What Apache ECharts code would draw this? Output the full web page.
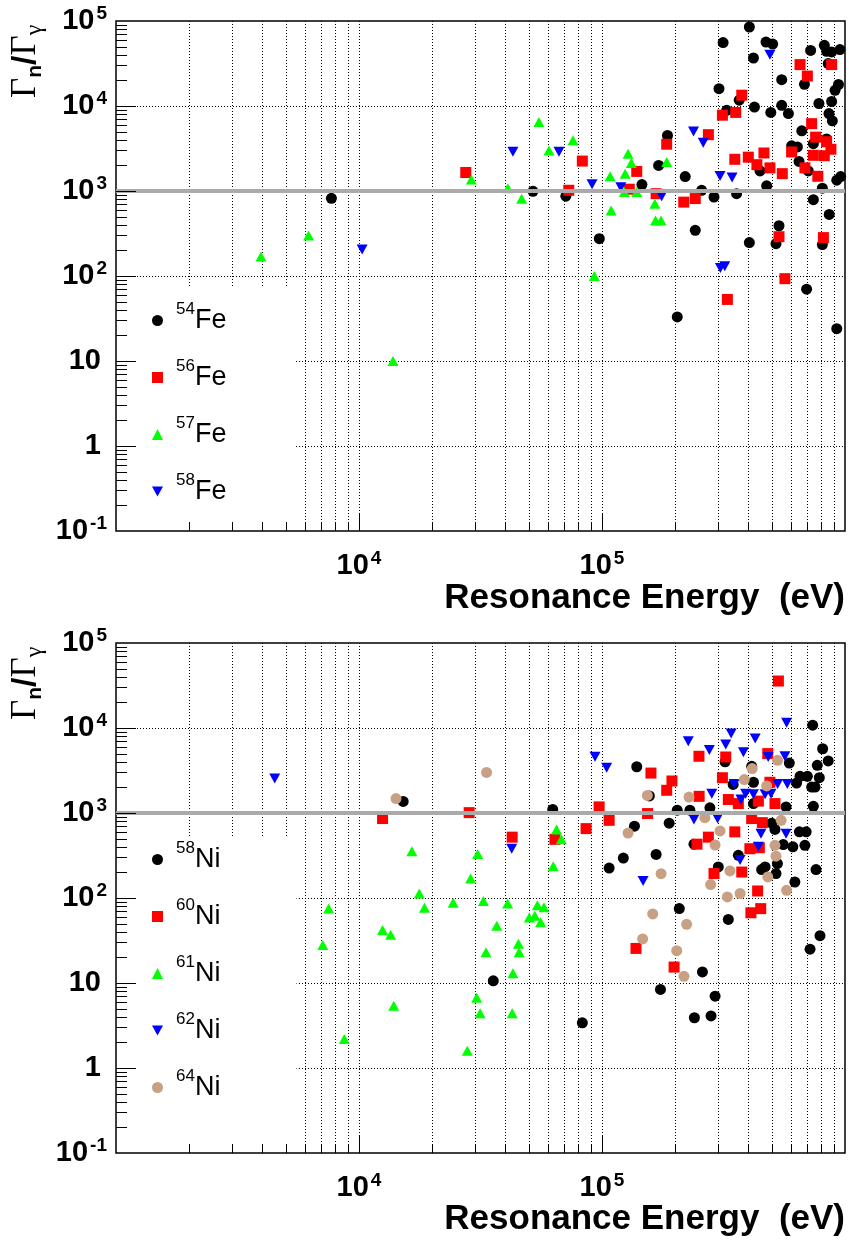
<!DOCTYPE html>
<html><head><meta charset="utf-8">
<script src="https://cdn.jsdelivr.net/npm/echarts@6/dist/echarts.min.js"></script>
<style>html,body{margin:0;padding:0;background:#fff}#c{width:849px;height:1243px}</style>
</head><body><div id="c"></div>
<script>
// ---------- data: [resonance energy (eV), Gamma_n / Gamma_gamma] ----------
const fe54 = [[7700,820],[52000,990],[71000,870],[97500,275],[146000,1190],[171000,2000],[186000,4500],[220000,1480],[257000,1020],[242000,345],[204000,33],[404000,85000],[315000,55700],[473000,56500],[504000,53500],[420000,36700],[722000,45000],[822000,51800],[840000,44000],[881000,43200],[953000,46100],[853000,31600],[681000,18000],[549000,20400],[303000,16000],[367000,11700],[910000,15300],[940000,17900],[781000,10700],[881000,11300],[424000,9700],[549000,10200],[585000,8150],[495000,8400],[326000,8900],[859000,8150],[887000,6700],[664000,5100],[741000,3600],[840000,4100],[603000,3400],[637000,3300],[647000,2230],[706000,1720],[925000,1340],[960000,1480],[807000,1080],[741000,790],[861000,530],[447000,1720],[476000,1150],[289000,850],[358000,930],[535000,390],[520000,240],[404000,247],[807000,234],[695000,70],[925000,24]];
const fe56 = [[27500,1650],[73000,1020],[83000,2250],[129500,1050],[139000,1700],[167000,930],[184600,3550],[217000,740],[242000,815],[274000,4600],[653000,30700],[700000,22500],[881000,30700],[376000,13400],[313000,7800],[355000,8400],[729000,6200],[757000,4300],[840000,3800],[875000,3100],[741000,2630],[822000,2600],[603000,2880],[684000,1870],[773000,1490],[352000,2360],[400000,2500],[434000,2040],[464000,2800],[491000,1870],[552000,1600],[535000,290],[815000,283],[566000,93],[328000,53]];
const fe57 = [[3950,170],[6200,300],[13800,10],[29000,1370],[41000,1080],[46700,810],[55000,6500],[60500,3000],[76000,3950],[93000,100],[109000,590],[108000,1490],[128000,2750],[132000,2130],[124500,1600],[123600,970],[139000,970],[184600,2200],[165000,710],[166000,450],[175000,450]];
const fe58 = [[10300,205],[43000,2900],[66500,2900],[91000,1200],[119500,1110],[176000,870],[238000,5000],[261000,3700],[491000,40000],[306000,1500],[343000,1440],[307000,124],[320000,130]];

const ni58 = [[15200,1370],[62700,1100],[35700,10.6],[83000,3.4],[139000,3500],[156700,1590],[136000,700],[189000,760],[204000,1080],[230000,1080],[239000,430],[122400,295],[107000,225],[167000,326],[208000,75],[259000,13.5],[174000,8.4],[240000,3.9],[278000,1150],[736000,10800],[809000,5700],[853000,4100],[769000,3640],[321000,4000],[590000,3870],[413000,3540],[420000,2300],[346500,2170],[632000,2250],[653000,2700],[700000,2700],[784000,2600],[729000,2020],[753000,2020],[420000,1290],[572000,1180],[741000,1200],[499000,760],[515000,640],[649000,600],[692000,600],[557000,425],[610000,400],[684000,417],[364000,318],[527000,254],[520000,194],[454000,216],[469000,232],[622000,154],[760000,216],[301000,232],[331000,56],[789000,36],[718000,25],[292000,7],[281000,4.1]];
const ni60 = [[12500,860],[28400,1010],[42700,520],[64000,490],[159000,2950],[194000,2380],[184600,1850],[250600,4650],[251000,1570],[97300,1180],[107000,820],[86000,655],[154000,985],[246000,430],[138000,25.5],[198000,15.4],[532000,35700],[323000,4560],[481000,5000],[313000,2600],[491000,2300],[331000,1440],[364000,1290],[440000,1380],[515000,1290],[413000,860],[457000,770],[352000,600],[274000,520],[406000,380],[444000,390],[289000,194],[376000,202],[437000,121],[410000,67],[450000,75]];
const ni61 = [[7500,75],[7100,28],[8700,2.2],[12500,42],[13500,37],[13900,5.4],[16500,355],[17700,113],[18600,77],[24400,88],[27900,1.6],[28800,170],[30500,6.7],[30800,330],[31500,4.4],[32500,92],[33300,23],[36900,47],[40900,86],[42700,4.4],[43000,13],[45300,29],[45600,23],[50200,59],[52900,62],[54200,82],[55900,52],[57700,78],[63000,236],[65000,640],[68000,490]];
const ni62 = [[4500,2550],[42500,380],[93600,4600],[104500,3400],[147600,158],[226500,7000],[276500,5500],[239000,840],[575000,11500],[340000,8600],[427000,7500],[323000,6400],[382000,5200],[483000,4560],[566000,4650],[350000,2200],[283000,1690],[528000,2200],[579000,2200],[390000,1690],[420000,1660],[373000,1440],[469000,1660],[496000,1690],[299000,860],[451000,570],[572000,570],[440000,400],[370000,280]];
const ni64 = [[14200,1480],[33500,3000],[153700,1610],[228000,1540],[128000,580],[265000,880],[175000,193],[161700,65],[223000,49],[147000,33],[203000,24],[217500,12],[528000,4170],[415000,3330],[385000,2470],[476000,2080],[546000,820],[306000,615],[292000,420],[515000,417],[520000,310],[481000,177],[575000,123],[336000,208],[280000,144],[328000,103],[370000,113]];

// ---------- axes / labels ----------
const X_MIN = 1e3, X_MAX = 1e6, Y_MIN = 0.1, Y_MAX = 1e5;
const REF_LEVEL = 1000;
const xTickExps = [4, 5];
const xTickLabels = ['{b|10}{s|4}', '{b|10}{s|5}'];
const yTickExps = [-1, 0, 1, 2, 3, 4, 5];
const yTickLabels = ['{b|10}{s|-1}', '{p|1}', '{p|10}', '{b|10}{s|2}', '{b|10}{s|3}', '{b|10}{s|4}', '{b|10}{s|5}'];
const xTitle = 'Resonance Energy  (eV)';
const yTitle = '{G|Γ}{n|n}{sl|/}{G|Γ}{g|γ}';
const feNames = ['54Fe', '56Fe', '57Fe', '58Fe'];
const niNames = ['58Ni', '60Ni', '61Ni', '62Ni', '64Ni'];

// tick positions (decade x multiplier)
const xTicks = [], yTicks = [];
for (let e = 3; e <= 5; e++) for (let m = 1; m <= 9; m++) { if (e === 3 && m === 1) continue; xTicks.push([m * Math.pow(10, e), 1, m === 1 ? 1 : 0]); }
for (let e = -1; e <= 4; e++) for (let m = 1; m <= 9; m++) { if (e === -1 && m === 1) continue; yTicks.push([X_MIN, m * Math.pow(10, e), m === 1 ? 1 : 0]); }
const yGrid = yTicks.filter(t => t[2] === 1);

const FONT = '"Liberation Sans", Arial, Helvetica, sans-serif';
const SERIF = '"Liberation Serif", "Times New Roman", serif';
const DOWN_TRI = 'path://M0,0L10,0L5,9Z';
const BROWN = '#c9a083';

const labelRich = {
  b: {fontFamily: FONT, fontWeight: 'bold', fontSize: 29, lineHeight: 34, color: '#000'},
  p: {fontFamily: FONT, fontWeight: 'bold', fontSize: 29, lineHeight: 34, color: '#000', padding: [0, 6, 0, 0]},
  s: {fontFamily: FONT, fontWeight: 'bold', fontSize: 19, lineHeight: 19, color: '#000', padding: [0, 0, 14, 2]}
};

function xLabel(v) { const e = Math.round(Math.log10(v)); const i = xTickExps.indexOf(e); return i < 0 ? '' : xTickLabels[i]; }
function yLabel(v) { const e = Math.round(Math.log10(v)); const i = yTickExps.indexOf(e); return i < 0 ? '' : yTickLabels[i]; }

function xGridItem(params, api) {
  const v = api.value(0);
  const a = api.coord([v, Y_MAX]), b = api.coord([v, Y_MIN]);
  const x = Math.round(a[0]) + 0.5;
  return {type: 'line', silent: true, shape: {x1: x, y1: a[1], x2: x, y2: b[1]}, style: {stroke: '#000', lineWidth: 1, lineDash: [1, 2]}};
}
function yGridItem(params, api) {
  const v = api.value(1);
  const a = api.coord([X_MIN, v]), b = api.coord([X_MAX, v]);
  const y = Math.round(a[1]) + 0.5;
  return {type: 'line', silent: true, shape: {x1: a[0], y1: y, x2: b[0], y2: y}, style: {stroke: '#000', lineWidth: 1, lineDash: [1, 2]}};
}
function xTickItem(params, api) {
  const v = api.value(0), major = api.value(2);
  const p = api.coord([v, Y_MIN]);
  const x = Math.round(p[0]) + 0.5, len = major ? 17 : 9;
  return {type: 'line', silent: true, shape: {x1: x, y1: p[1], x2: x, y2: p[1] - len}, style: {stroke: '#000', lineWidth: 1}};
}
function yTickItem(params, api) {
  const v = api.value(1), major = api.value(2);
  const p = api.coord([X_MIN, v]);
  const y = Math.round(p[1]) + 0.5, len = major ? 20 : 11;
  return {type: 'line', silent: true, shape: {x1: p[0], y1: y, x2: p[0] + len, y2: y}, style: {stroke: '#000', lineWidth: 1}};
}

function axesFor(gi) {
  return {
    x: {gridIndex: gi, type: 'log', logBase: 10, min: X_MIN, max: X_MAX,
        axisLine: {show: false}, axisTick: {show: false}, splitLine: {show: false},
        axisLabel: {formatter: xLabel, margin: 18, rich: labelRich}},
    y: {gridIndex: gi, type: 'log', logBase: 10, min: Y_MIN, max: Y_MAX,
        axisLine: {show: false}, axisTick: {show: false}, splitLine: {show: false},
        axisLabel: {formatter: yLabel, margin: 9, rich: labelRich}}
  };
}
function frameSeries(gi) {
  return [
    {type: 'custom', coordinateSystem: 'cartesian2d', xAxisIndex: gi, yAxisIndex: gi, z: 1, silent: true, renderItem: xGridItem, data: xTicks},
    {type: 'custom', coordinateSystem: 'cartesian2d', xAxisIndex: gi, yAxisIndex: gi, z: 1, silent: true, renderItem: yGridItem, data: yGrid},
    {type: 'custom', coordinateSystem: 'cartesian2d', xAxisIndex: gi, yAxisIndex: gi, z: 5, silent: true, renderItem: xTickItem, data: xTicks},
    {type: 'custom', coordinateSystem: 'cartesian2d', xAxisIndex: gi, yAxisIndex: gi, z: 5, silent: true, renderItem: yTickItem, data: yTicks}
  ];
}
function sc(name, data, gi, symbol, color, size, withRef) {
  const s = {type: 'scatter', name, data, xAxisIndex: gi, yAxisIndex: gi, symbol, symbolSize: size,
    itemStyle: {color, opacity: 1}, z: 2, emphasis: {disabled: true}, animation: false};
  if (withRef) s.markLine = {silent: true, symbol: 'none', label: {show: false}, animation: false,
    lineStyle: {color: '#aaaaaa', width: 4, type: 'solid'}, data: [{yAxis: REF_LEVEL}]};
  return s;
}
const a0 = axesFor(0), a1 = axesFor(1);
const legendRich = {
  s: {fontFamily: FONT, fontSize: 17, lineHeight: 14, color: '#000', padding: [0, 0, 22, 8]},
  m: {fontFamily: FONT, fontSize: 27, lineHeight: 36, color: '#000'}
};
function legendFmt(name) { const m = name.match(/^(\d+)(\D+)$/); return '{s|' + m[1] + '}{m|' + m[2] + '}'; }
const titleRich = {
  G: {fontFamily: SERIF, fontSize: 35, lineHeight: 40, color: '#000'},
  sl: {fontFamily: FONT, fontWeight: 'bold', fontSize: 34, lineHeight: 40, color: '#000'},
  n: {fontFamily: FONT, fontWeight: 'bold', fontSize: 21, lineHeight: 20, color: '#000', padding: [18, 0, 0, 0]},
  g: {fontFamily: SERIF, fontSize: 24, lineHeight: 20, color: '#000', padding: [18, 0, 0, 0]}
};
const xTitleStyle = {text: xTitle, fontFamily: FONT, fontWeight: 'bold', fontSize: 35, fill: '#000', align: 'right', verticalAlign: 'middle'};
const icons = {circle: 'circle', rect: 'rect', tri: 'triangle', dtri: DOWN_TRI};
const gridBase = {left: 116, width: 729, height: 510, show: true, borderColor: '#000', borderWidth: 1.5,
  backgroundColor: 'transparent', containLabel: false, outerBoundsMode: 'none'};

const option = {
  animation: false,
  backgroundColor: '#fff',
  textStyle: {fontFamily: FONT},
  grid: [Object.assign({top: 21}, gridBase), Object.assign({top: 643}, gridBase)],
  xAxis: [a0.x, a1.x],
  yAxis: [a0.y, a1.y],
  legend: [
    {z: 6, orient: 'vertical', left: 152, top: 301, itemGap: 18, itemWidth: 11, itemHeight: 11, padding: 0,
     selectedMode: false, formatter: legendFmt, textStyle: {rich: legendRich},
     data: [{name: feNames[0], icon: icons.circle}, {name: feNames[1], icon: icons.rect}, {name: feNames[2], icon: icons.tri}, {name: feNames[3], icon: icons.dtri}]},
    {z: 6, orient: 'vertical', left: 152, top: 840, itemGap: 18, itemWidth: 11, itemHeight: 11, padding: 0,
     selectedMode: false, formatter: legendFmt, textStyle: {rich: legendRich},
     data: [{name: niNames[0], icon: icons.circle}, {name: niNames[1], icon: icons.rect}, {name: niNames[2], icon: icons.tri}, {name: niNames[3], icon: icons.dtri}, {name: niNames[4], icon: icons.circle}]}
  ],
  graphic: {z: 3, elements: [
    {type: 'rect', z: 3, silent: true, shape: {x: 117.5, y: 288, width: 177, height: 242}, style: {fill: '#fff'}},
    {type: 'rect', z: 3, silent: true, shape: {x: 117.5, y: 837, width: 179, height: 315}, style: {fill: '#fff'}},
    {type: 'text', z: 3, silent: true, x: 26, y: 98, rotation: Math.PI / 2, style: {text: yTitle, rich: titleRich, align: 'left', verticalAlign: 'middle', fill: '#000'}},
    {type: 'text', z: 3, silent: true, x: 26, y: 720, rotation: Math.PI / 2, style: {text: yTitle, rich: titleRich, align: 'left', verticalAlign: 'middle', fill: '#000'}},
    {type: 'text', z: 3, silent: true, x: 845, y: 598, style: xTitleStyle},
    {type: 'text', z: 3, silent: true, x: 845, y: 1219, style: xTitleStyle}
  ]},
  series: [].concat(
    frameSeries(0), frameSeries(1),
    [
      sc(feNames[0], fe54, 0, 'circle', '#000000', 11, true),
      sc(feNames[1], fe56, 0, 'rect', '#ff0000', 11),
      sc(feNames[2], fe57, 0, 'triangle', '#00ff00', [11, 10]),
      sc(feNames[3], fe58, 0, DOWN_TRI, '#0000ff', [11, 10]),
      sc(niNames[0], ni58, 1, 'circle', '#000000', 11, true),
      sc(niNames[1], ni60, 1, 'rect', '#ff0000', 11),
      sc(niNames[2], ni61, 1, 'triangle', '#00ff00', [11, 10]),
      sc(niNames[3], ni62, 1, DOWN_TRI, '#0000ff', [11, 10]),
      sc(niNames[4], ni64, 1, 'circle', BROWN, 11)
    ]
  )
};
const chart = echarts.init(document.getElementById('c'), null, {renderer: 'canvas', width: 849, height: 1243});
chart.setOption(option);
</script>
</body></html>
